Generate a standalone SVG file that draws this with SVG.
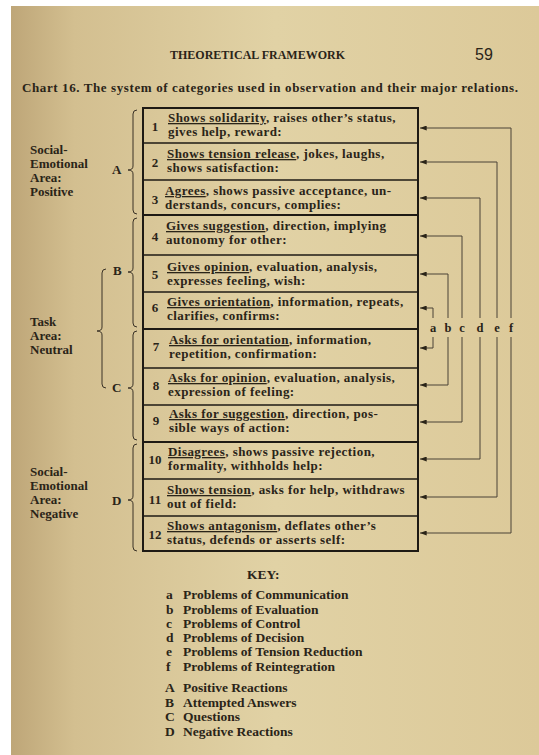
<svg xmlns="http://www.w3.org/2000/svg" width="539" height="755" viewBox="0 0 539 755">
<defs>
<linearGradient id="paper" x1="0" y1="0" x2="1" y2="0">
<stop offset="0" stop-color="#bea678"/>
<stop offset="0.12" stop-color="#d3bf90"/>
<stop offset="0.5" stop-color="#e1d2a5"/>
<stop offset="1" stop-color="#dcc999"/>
</linearGradient>
<marker id="arr" viewBox="0 0 8 6" refX="0" refY="3" markerWidth="7" markerHeight="5" orient="0" markerUnits="userSpaceOnUse">
<path d="M0,3 L8,0 L8,6 Z" fill="#2a2418"/>
</marker>
<style>
text{font-family:'Liberation Serif','Times New Roman',serif;font-weight:bold;fill:#2a2418}
.row{font-size:13px;letter-spacing:0.45px}
.num{font-size:13px;text-anchor:middle}
.lbl{font-size:13px}
.key{font-size:13.5px}
.u{text-decoration:underline}
.brace{fill:none;stroke:#3a3226;stroke-width:1}
.conn{fill:none;stroke:#4a4236;stroke-width:1}
.grid{stroke:#1e1a14;stroke-width:1.3}
.gridb{stroke:#1e1a14;stroke-width:2}
.cl{font-size:12.5px;text-anchor:middle}
</style>
</defs>
<rect x="0" y="0" width="539" height="755" fill="#ffffff"/>
<rect x="11" y="6" width="528" height="749" fill="url(#paper)"/>

<g id="header">
<text x="170" y="59" font-size="12" textLength="175">THEORETICAL FRAMEWORK</text>
<text x="475" y="60" style="font-family:'Liberation Sans',Arial,sans-serif;font-weight:normal;font-size:16px">59</text>
<text x="22" y="92" font-size="13" textLength="496">Chart 16.  The system of categories used in observation and their major relations.</text>
</g>

<g id="table">
<rect x="143" y="108" width="275" height="443" fill="none" class="gridb"/>
<line class="grid" x1="143" y1="143" x2="418" y2="143"/>
<line class="grid" x1="143" y1="180" x2="418" y2="180"/>
<line class="gridb" x1="143" y1="215" x2="418" y2="215"/>
<line class="grid" x1="143" y1="255" x2="418" y2="255"/>
<line class="grid" x1="143" y1="292" x2="418" y2="292"/>
<line class="gridb" x1="143" y1="329" x2="418" y2="329"/>
<line class="grid" x1="143" y1="368" x2="418" y2="368"/>
<line class="grid" x1="143" y1="405" x2="418" y2="405"/>
<line class="gridb" x1="143" y1="442" x2="418" y2="442"/>
<line class="grid" x1="143" y1="479" x2="418" y2="479"/>
<line class="grid" x1="143" y1="516" x2="418" y2="516"/>
</g>

<g id="cat1"><text class="num" x="155" y="131">1</text>
<text class="row" x="168" y="122"><tspan class="u">Shows solidarity</tspan>, raises other’s status,</text>
<text class="row" x="168" y="136">gives help, reward:</text></g>
<g id="cat2"><text class="num" x="155" y="167">2</text>
<text class="row" x="167" y="158"><tspan class="u">Shows tension release</tspan>, jokes, laughs,</text>
<text class="row" x="167" y="172">shows satisfaction:</text></g>
<g id="cat3"><text class="num" x="155" y="204">3</text>
<text class="row" x="165" y="195"><tspan class="u">Agrees</tspan>, shows passive acceptance, un-</text>
<text class="row" x="165" y="209">derstands, concurs, complies:</text></g>
<g id="cat4"><text class="num" x="155" y="241">4</text>
<text class="row" x="166" y="230"><tspan class="u">Gives suggestion</tspan>, direction, implying</text>
<text class="row" x="166" y="244">autonomy for other:</text></g>
<g id="cat5"><text class="num" x="155" y="279">5</text>
<text class="row" x="167" y="271"><tspan class="u">Gives opinion</tspan>, evaluation, analysis,</text>
<text class="row" x="167" y="285">expresses feeling, wish:</text></g>
<g id="cat6"><text class="num" x="155" y="312">6</text>
<text class="row" x="167" y="306"><tspan class="u">Gives orientation</tspan>, information, repeats,</text>
<text class="row" x="167" y="320">clarifies, confirms:</text></g>
<g id="cat7"><text class="num" x="156" y="351">7</text>
<text class="row" x="169" y="344"><tspan class="u">Asks for orientation</tspan>, information,</text>
<text class="row" x="169" y="358">repetition, confirmation:</text></g>
<g id="cat8"><text class="num" x="156" y="390">8</text>
<text class="row" x="168" y="382"><tspan class="u">Asks for opinion</tspan>, evaluation, analysis,</text>
<text class="row" x="168" y="396">expression of feeling:</text></g>
<g id="cat9"><text class="num" x="156" y="425">9</text>
<text class="row" x="169" y="418"><tspan class="u">Asks for suggestion</tspan>, direction, pos-</text>
<text class="row" x="169" y="432">sible ways of action:</text></g>
<g id="cat10"><text class="num" x="155" y="464">10</text>
<text class="row" x="168" y="456"><tspan class="u">Disagrees</tspan>, shows passive rejection,</text>
<text class="row" x="168" y="470">formality, withholds help:</text></g>
<g id="cat11"><text class="num" x="155" y="504">11</text>
<text class="row" x="167" y="494"><tspan class="u">Shows tension</tspan>, asks for help, withdraws</text>
<text class="row" x="167" y="508">out of field:</text></g>
<g id="cat12"><text class="num" x="155" y="539">12</text>
<text class="row" x="167" y="530"><tspan class="u">Shows antagonism</tspan>, deflates other’s</text>
<text class="row" x="167" y="544">status, defends or asserts self:</text></g>

<g id="braces">
<path class="brace" d="M137 110 Q133 110 133 114 L133 166 Q133 170 128 170 Q133 170 133 174 L133 210 Q133 214 137 214"/>
<path class="brace" d="M137 218 Q133 218 133 222 L133 268 Q133 272 128 272 Q133 272 133 276 L133 323 Q133 327 137 327"/>
<path class="brace" d="M137 331 Q133 331 133 335 L133 384 Q133 388 128 388 Q133 388 133 392 L133 436 Q133 440 137 440"/>
<path class="brace" d="M137 444 Q133 444 133 448 L133 496 Q133 500 128 500 Q133 500 133 504 L133 547 Q133 551 137 551"/>
<path class="brace" d="M106 269 Q102 269 102 273 L102 327 Q102 331 97 331 Q102 331 102 335 L102 384 Q102 388 106 388"/>
</g>

<g id="groupA"><text class="lbl" x="112" y="174">A</text></g>
<g id="groupB"><text class="lbl" x="113" y="275">B</text></g>
<g id="groupC"><text class="lbl" x="112" y="392">C</text></g>
<g id="groupD"><text class="lbl" x="112" y="505">D</text></g>

<g id="area-positive">
<text class="lbl" x="30" y="154">Social-</text>
<text class="lbl" x="30" y="168">Emotional</text>
<text class="lbl" x="30" y="182">Area:</text>
<text class="lbl" x="30" y="196">Positive</text>
</g>
<g id="area-neutral">
<text class="lbl" x="30" y="326">Task</text>
<text class="lbl" x="30" y="340">Area:</text>
<text class="lbl" x="30" y="354">Neutral</text>
</g>
<g id="area-negative">
<text class="lbl" x="30" y="476">Social-</text>
<text class="lbl" x="30" y="490">Emotional</text>
<text class="lbl" x="30" y="504">Area:</text>
<text class="lbl" x="30" y="518">Negative</text>
</g>

<g id="connectors">
<path class="conn" marker-start="url(#arr)" d="M420 308 H433 V318"/>
<path class="conn" marker-start="url(#arr)" d="M420 348 H433 V337"/>
<path class="conn" marker-start="url(#arr)" d="M420 274 H448 V318"/>
<path class="conn" marker-start="url(#arr)" d="M420 385 H448 V337"/>
<path class="conn" marker-start="url(#arr)" d="M420 236 H462 V318"/>
<path class="conn" marker-start="url(#arr)" d="M420 422 H462 V337"/>
<path class="conn" marker-start="url(#arr)" d="M420 198 H480 V318"/>
<path class="conn" marker-start="url(#arr)" d="M420 459 H480 V337"/>
<path class="conn" marker-start="url(#arr)" d="M420 162 H497 V318"/>
<path class="conn" marker-start="url(#arr)" d="M420 497 H497 V337"/>
<path class="conn" marker-start="url(#arr)" d="M420 128 H511 V318"/>
<path class="conn" marker-start="url(#arr)" d="M420 533 H511 V337"/>
</g>
<g id="conn-labels">
<text class="cl" x="433" y="332">a</text>
<text class="cl" x="448" y="332">b</text>
<text class="cl" x="462" y="332">c</text>
<text class="cl" x="480" y="332">d</text>
<text class="cl" x="497" y="332">e</text>
<text class="cl" x="511" y="332">f</text>
</g>

<g id="key">
<text class="key" x="247" y="579">KEY:</text>
<text class="key" x="166" y="599">a</text><text class="key" x="183" y="599">Problems of Communication</text>
<text class="key" x="166" y="614">b</text><text class="key" x="183" y="614">Problems of Evaluation</text>
<text class="key" x="166" y="628">c</text><text class="key" x="183" y="628">Problems of Control</text>
<text class="key" x="166" y="642">d</text><text class="key" x="183" y="642">Problems of Decision</text>
<text class="key" x="166" y="656">e</text><text class="key" x="183" y="656">Problems of Tension Reduction</text>
<text class="key" x="166" y="671">f</text><text class="key" x="183" y="671">Problems of Reintegration</text>
<text class="key" x="165" y="692">A</text><text class="key" x="183" y="692">Positive Reactions</text>
<text class="key" x="165" y="707">B</text><text class="key" x="183" y="707">Attempted Answers</text>
<text class="key" x="165" y="721">C</text><text class="key" x="183" y="721">Questions</text>
<text class="key" x="165" y="736">D</text><text class="key" x="183" y="736">Negative Reactions</text>
</g>
</svg>
